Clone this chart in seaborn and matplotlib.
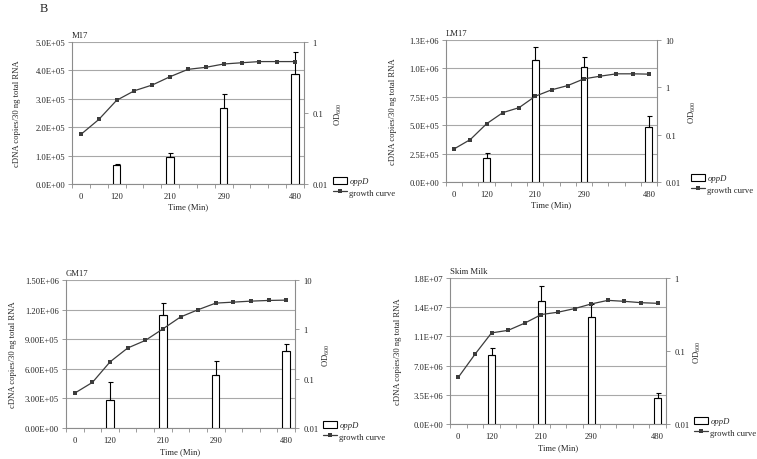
import numpy as np
import pandas as pd
import matplotlib
matplotlib.use("Agg")
import matplotlib.pyplot as plt
import seaborn as sns
from matplotlib.patches import Patch
from matplotlib.lines import Line2D

# ---------------- data ----------------
sample_index = list(range(13))
time_labels = ["0", "", "120", "", "", "210", "", "", "290", "", "", "", "480"]
bar_index = [2, 5, 8, 12]

m17_growth = [0.050, 0.081, 0.151, 0.206, 0.248, 0.325, 0.412, 0.44, 0.49, 0.51, 0.53, 0.53, 0.53]
m17_oppd = [6.6e4, 9.6e4, 2.68e5, 3.87e5]
m17_err = [0.4e4, 1.4e4, 4.8e4, 7.9e4]

lm17_growth = [0.050, 0.079, 0.170, 0.292, 0.372, 0.648, 0.884, 1.09, 1.51, 1.72, 1.93, 1.93, 1.90]
lm17_oppd = [2.09e5, 1.074e6, 1.015e6, 4.82e5]
lm17_err = [0.50e5, 1.11e5, 0.82e5, 1.0e5]

gm17_growth = [0.051, 0.084, 0.219, 0.418, 0.595, 1.02, 1.78, 2.50, 3.40, 3.56, 3.73, 3.85, 3.91]
gm17_oppd = [2.88e5, 1.145e6, 5.42e5, 7.83e5]
gm17_err = [1.81e5, 1.24e5, 1.38e5, 0.67e5]

skim_growth = [0.0436, 0.090, 0.177, 0.192, 0.241, 0.316, 0.340, 0.381, 0.441, 0.494, 0.479, 0.459, 0.450]
skim_oppd = [8.32e6, 14.7e6, 12.8e6, 3.11e6]
skim_err = [0.82e6, 1.8e6, 1.6e6, 0.60e6]

m17_yticks = [0, 1e5, 2e5, 3e5, 4e5, 5e5]
m17_ylabels = ["0.0E+00", "1.0E+05", "2.0E+05", "3.0E+05", "4.0E+05", "5.0E+05"]
lm17_yticks = [0, 2.5e5, 5e5, 7.5e5, 1e6, 1.25e6]
lm17_ylabels = ["0.0E+00", "2.5E+05", "5.0E+05", "7.5E+05", "1.0E+06", "1.3E+06"]
gm17_yticks = [0, 3e5, 6e5, 9e5, 1.2e6, 1.5e6]
gm17_ylabels = ["0.00E+00", "3.00E+05", "6.00E+05", "9.00E+05", "1.20E+06", "1.50E+06"]
skim_yticks = [0, 3.5e6, 7e6, 1.05e7, 1.4e7, 1.75e7]
skim_ylabels = ["0.0E+00", "3.5E+06", "7.0E+06", "1.1E+07", "1.4E+07", "1.8E+07"]

m17_od_ticks = [0.01, 0.1, 1]
m17_od_labels = ["0.01", "0.1", "1"]
lm17_od_ticks = [0.01, 0.1, 1, 10]
lm17_od_labels = ["0.01", "0.1", "1", "10"]
gm17_od_ticks = [0.01, 0.1, 1, 10]
gm17_od_labels = ["0.01", "0.1", "1", "10"]
skim_od_ticks = [0.01, 0.1, 1]
skim_od_labels = ["0.01", "0.1", "1"]

# ---------------- style ----------------
sns.set_theme(style="white")
plt.rcParams['font.family'] = ['Liberation Serif', 'DejaVu Serif']
plt.rcParams['mathtext.fontset'] = 'custom'
plt.rcParams['mathtext.rm'] = 'Liberation Serif'
plt.rcParams['mathtext.it'] = 'Liberation Serif:italic'
FS = 6.2
GRID = '#a8a8a8'
SPINE = '#8c8c8c'
LINEC = '#3c3c3c'

fig = plt.figure(figsize=(7.57, 4.60), dpi=100)

panels = [
    dict(title="M17", growth=m17_growth, oppd=m17_oppd, err=m17_err,
         yt=m17_yticks, yl=m17_ylabels, odt=m17_od_ticks, odl=m17_od_labels,
         rect=(72, 43, 304, 185), ylx=-0.22, odx=1.125, leg=(333, 178)),
    dict(title="LM17", growth=lm17_growth, oppd=lm17_oppd, err=lm17_err,
         yt=lm17_yticks, yl=lm17_ylabels, odt=lm17_od_ticks, odl=lm17_od_labels,
         rect=(446, 41, 657, 183), ylx=-0.232, odx=1.142, leg=(691, 175)),
    dict(title="GM17", growth=gm17_growth, oppd=gm17_oppd, err=gm17_err,
         yt=gm17_yticks, yl=gm17_ylabels, odt=gm17_od_ticks, odl=gm17_od_labels,
         rect=(66, 281, 295, 429), ylx=-0.214, odx=1.113, leg=(323, 422)),
    dict(title="Skim Milk", growth=skim_growth, oppd=skim_oppd, err=skim_err,
         yt=skim_yticks, yl=skim_ylabels, odt=skim_od_ticks, odl=skim_od_labels,
         rect=(450, 279, 666, 425), ylx=-0.222, odx=1.12, leg=(694, 418)),
]

W, H = 757.0, 460.0
for p in panels:
    x0, y0, x1, y1 = p["rect"]
    ax = fig.add_axes([x0 / W, 1 - y1 / H, (x1 - x0) / W, (y1 - y0) / H])
    df = pd.DataFrame({"idx": bar_index, "val": p["oppd"]})
    sns.barplot(data=df, x="idx", y="val", order=sample_index, width=0.42,
                color="white", edgecolor="black", linewidth=0.8, saturation=1,
                errorbar=None, ax=ax, zorder=3)
    ax.errorbar(bar_index, p["oppd"], yerr=[np.zeros(len(p["err"])), p["err"]],
                fmt="none", ecolor="black", elinewidth=0.8, capsize=1.8,
                capthick=0.8, zorder=4)
    ax.set_xlim(-0.5, 12.5)
    ax.set_ylim(p["yt"][0], p["yt"][-1])
    ax.set_yticks(p["yt"])
    ax.set_yticklabels(p["yl"], fontsize=FS)
    ax.set_xticks(sample_index)
    ax.set_xticklabels(time_labels, fontsize=FS)
    ax.set_xticks(np.arange(-0.5, 13, 1), minor=True)
    ax.tick_params(axis="x", which="major", length=0, pad=6, bottom=True)
    ax.tick_params(axis="x", which="minor", length=3, width=0.6, color=SPINE,
                   direction="out", bottom=True)
    ax.tick_params(axis="y", which="major", length=3, width=0.6, color=SPINE,
                   direction="out", left=True, pad=2)
    ax.yaxis.grid(True, color=GRID, linewidth=0.8, zorder=0)
    ax.set_axisbelow(True)
    for s in ["top", "right"]:
        ax.spines[s].set_visible(False)
    for s in ["left", "bottom"]:
        ax.spines[s].set_color(SPINE)
        ax.spines[s].set_linewidth(0.8)
    ax.set_xlabel("Time (Min)", fontsize=FS)
    ax.xaxis.set_label_coords(0.5, -0.13)
    ax.set_ylabel("cDNA copies/30 ng total RNA", fontsize=FS)
    ax.yaxis.set_label_coords(p["ylx"], 0.5)
    ax.text(0.0, 1.02, p["title"], transform=ax.transAxes, fontsize=FS,
            ha="left", va="bottom")

    ax2 = ax.twinx()
    sns.lineplot(x=sample_index, y=p["growth"], ax=ax2, color=LINEC, marker="s",
                 markersize=2.8, markeredgewidth=0, linewidth=0.9)
    ax2.set_yscale("log")
    ax2.set_ylim(p["odt"][0], p["odt"][-1])
    ax2.set_yticks(p["odt"])
    ax2.set_yticklabels(p["odl"], fontsize=FS)
    ax2.yaxis.set_minor_locator(matplotlib.ticker.NullLocator())
    ax2.tick_params(axis="y", which="major", length=3, width=0.6, color=SPINE,
                    direction="out", right=True, pad=3)
    for s in ["top", "left", "bottom"]:
        ax2.spines[s].set_visible(False)
    ax2.spines["right"].set_color(SPINE)
    ax2.spines["right"].set_linewidth(0.8)
    ax2.set_ylabel("OD$_{600}$", fontsize=FS)
    ax2.yaxis.set_label_coords(p["odx"], 0.5)

    handles = [Patch(facecolor="white", edgecolor="black", linewidth=0.8),
               Line2D([0], [0], color=LINEC, marker="s", markersize=2.8,
                      markeredgewidth=0, linewidth=0.9)]
    lx, ly = p["leg"]
    leg = fig.legend(handles, ["oppD", "growth curve"], loc="upper left",
                     bbox_to_anchor=(lx / W, 1 - ly / H), frameon=False,
                     fontsize=FS, handlelength=1.6, handleheight=0.8,
                     handletextpad=0.3, labelspacing=0.35, borderpad=0,
                     borderaxespad=0)
    leg.get_texts()[0].set_fontstyle("italic")

fig.text(40 / W, 1 - 12 / H, "B", fontsize=9, ha="left", va="baseline")

fig.savefig("out.png", dpi=100)
